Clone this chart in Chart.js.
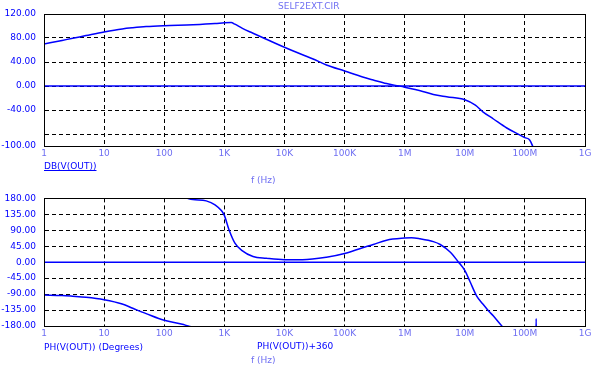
<!DOCTYPE html>
<html>
<head>
<meta charset="utf-8">
<script src="https://cdn.jsdelivr.net/npm/chart.js@4/dist/chart.umd.min.js"></script>
<style>
  html, body { margin: 0; padding: 0; background: #fff; }
  #wrap { position: relative; width: 612px; height: 370px; overflow: hidden; font-family: "DejaVu Sans", sans-serif; }
  #wrap canvas { position: absolute; left: 0; }
  .lbl { position: absolute; white-space: nowrap; font-size: 9px; line-height: 12px; }
  .dark { color: #0000ff; }
  .light { color: #6e6ef2; }
</style>
</head>
<body>
<div id="wrap">
  <canvas id="chart-db" width="612" height="185" style="top:0"></canvas>
  <canvas id="chart-ph" width="612" height="185" style="top:185px"></canvas>
  <div class="lbl light" style="left:278px;top:0px;font-size:9px">SELF2EXT.CIR</div>
  <div class="lbl dark" style="left:44px;top:160px;text-decoration:underline">DB(V(OUT))</div>
  <div class="lbl light" style="left:251px;top:174px">f (Hz)</div>
  <div class="lbl dark" style="left:44px;top:341px">PH(V(OUT)) (Degrees)</div>
  <div class="lbl dark" style="left:257px;top:340px">PH(V(OUT))+360</div>
  <div class="lbl light" style="left:251px;top:354px">f (Hz)</div>
</div>
<script>
// frequency axis (decades)
var freqTicks = [1, 10, 100, 1e3, 1e4, 1e5, 1e6, 1e7, 1e8, 1e9];
var freqLabels = ['1', '10', '100', '1K', '10K', '100K', '1M', '10M', '100M', '1G'];

// DB(V(OUT))
var dbFreq = [1, 2, 3, 5, 10, 20, 30, 50, 100, 300, 700, 1000, 1300, 1500, 2000, 3000, 5000,
  1e4, 2e4, 3e4, 5e4, 1e5, 2e5, 3e5, 5e5, 8e5, 1e6, 2e6, 3e6, 5e6, 1e7, 1.5e7, 2e7, 3e7, 5e7, 8e7, 1e8, 1.2e8, 1.4e8];
var dbValues = [70, 76, 79.5, 84, 90, 95, 97, 99, 100.5, 102, 104, 105.5, 106, 103, 96, 88, 78,
  64.5, 52, 45, 35, 25, 15, 10, 4, 0, -2, -9, -14, -18, -23, -32, -43, -55, -70, -81, -86, -90, -104];
var dbTicks = [-100, -80, -40, 0, 40, 80, 120];

// PH(V(OUT)), unwrapped degrees
var phFreq = [1, 2, 3, 5, 10, 20, 30, 50, 100, 200, 250, 300, 500, 700, 900, 1000, 1200, 1500, 2000, 3000, 5000,
  1e4, 2e4, 5e4, 1e5, 2e5, 3e5, 5e5, 1e6, 1.3e6, 1.8e6, 3e6, 3.9e6, 5.7e6, 7.9e6, 1e7, 1.22e7, 1.58e7, 2e7, 2.45e7, 3e7, 4.1e7,
  1e8, 1.5e8, 1.54e8, 1.58e8];
var phValues = [-92.5, -94, -96, -99, -106, -118, -130, -145, -164, -175, -180, -183, -187, -198, -215, -228, -269, -306, -328, -344, -349,
  -353, -353, -346, -335.5, -319, -310, -298, -292, -291, -294, -302, -310, -331, -360, -383, -414.5, -455.5, -478, -496, -512, -539,
  -600, -640, -519, -650];
var phTicks = [-180, -135, -90, -45, 0, 45, 90, 135, 180];

function pts(xs, ys, add) {
  return xs.map(function(x, i) { return { x: x, y: ys[i] + (add || 0) }; });
}

function makeOptions(yMin, yMax, yTicks, hideLabels, pad, xHeight) {
  return {
    responsive: false,
    animation: false,
    layout: { padding: { top: pad, right: 27, left: 0, bottom: 0 } },
    plugins: { legend: { display: false }, tooltip: { enabled: false } },
    elements: { point: { radius: 0 }, line: { cubicInterpolationMode: 'monotone' } },
    scales: {
      x: {
        type: 'logarithmic', min: 1, max: 1e9,
        afterBuildTicks: function(scale) {
          scale.ticks = freqTicks.map(function(v) { return { value: v }; });
        },
        afterFit: function(scale) { scale.height = xHeight; },
        ticks: {
          autoSkip: false, maxRotation: 0, padding: 2,
          color: '#6e6ef2', font: { family: 'DejaVu Sans', size: 9 },
          callback: function(v) { return freqLabels[freqTicks.indexOf(v)]; }
        },
        grid: { color: '#000', lineWidth: 1, drawTicks: false },
        border: { display: true, color: '#000', width: 1, dash: [4, 3] }
      },
      y: {
        min: yMin, max: yMax,
        afterBuildTicks: function(scale) {
          scale.ticks = yTicks.map(function(v) { return { value: v }; });
        },
        afterFit: function(scale) { scale.width = 44; },
        ticks: {
          autoSkip: false, padding: 8,
          color: '#0000ff', font: { family: 'DejaVu Sans', size: 9 },
          callback: function(v) { return hideLabels.indexOf(v) >= 0 ? '' : v.toFixed(2); }
        },
        grid: { color: '#000', lineWidth: 1, drawTicks: false },
        border: { display: true, color: '#000', width: 1, dash: [4, 3] }
      }
    }
  };
}

// solid frame around the plot area
var framePlugin = {
  id: 'frame',
  afterDraw: function(chart) {
    var a = chart.chartArea, ctx = chart.ctx;
    ctx.save();
    ctx.strokeStyle = '#000';
    ctx.lineWidth = 1;
    ctx.setLineDash([]);
    ctx.strokeRect(Math.round(a.left) + 0.5, Math.round(a.top) + 0.5,
      Math.round(a.right - a.left), Math.round(a.bottom - a.top));
    ctx.restore();
  }
};

var zeroLine = [{ x: 1, y: 0 }, { x: 1e9, y: 0 }];

new Chart(document.getElementById('chart-db'), {
  type: 'line',
  data: {
    datasets: [
      { data: zeroLine, borderColor: '#0000ff', borderWidth: 1.5 },
      { label: 'DB(V(OUT))', data: pts(dbFreq, dbValues), borderColor: '#0000ff', borderWidth: 1.5 }
    ]
  },
  options: makeOptions(-100, 120, dbTicks, [-80], 14, 39),
  plugins: [framePlugin]
});

new Chart(document.getElementById('chart-ph'), {
  type: 'line',
  data: {
    datasets: [
      { data: zeroLine, borderColor: '#0000ff', borderWidth: 1.5 },
      { label: 'PH(V(OUT))', data: pts(phFreq, phValues), borderColor: '#0000ff', borderWidth: 1.5 },
      { label: 'PH(V(OUT))+360', data: pts(phFreq, phValues, 360), borderColor: '#0000ff', borderWidth: 1.5 }
    ]
  },
  options: makeOptions(-180, 180, phTicks, [], 9, 44),
  plugins: [framePlugin]
});
</script>
</body>
</html>
